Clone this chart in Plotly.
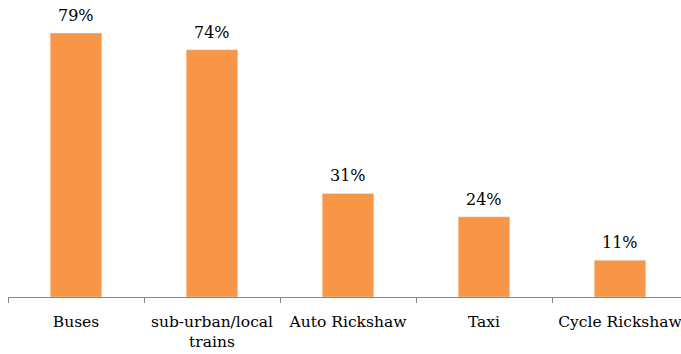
import plotly.graph_objects as go

categories = ["Buses", "sub-urban/local<br>trains", "Auto Rickshaw", "Taxi", "Cycle Rickshaw"]
values = [79, 74, 31, 24, 11]
labels = ["79%", "74%", "31%", "24%", "11%"]

fig = go.Figure()
fig.add_trace(go.Bar(x=categories, y=values, marker_color="#F79646", width=0.38))

for c, v, t in zip(categories, values, labels):
    fig.add_annotation(x=c, y=v, text=t, showarrow=False, yanchor="bottom", yshift=6,
                       font=dict(family="DejaVu Serif", size=16, color="#000000"))

fig.update_layout(
    width=681, height=354,
    margin=dict(l=8, r=0, t=13, b=57),
    plot_bgcolor="white", paper_bgcolor="white",
    showlegend=False,
    bargap=0.62,
)
fig.update_xaxes(
    range=[-0.5, 4.5 - 7/136],
    showline=True, linecolor="#868686", linewidth=1,
    ticks="outside", tickson="boundaries", ticklen=5, tickcolor="#868686",
    tickfont=dict(family="DejaVu Serif", size=15.5, color="#000000"),
    ticklabelstandoff=10, tickangle=0, automargin=False,
    showgrid=False,
)
fig.update_yaxes(range=[0, 85], visible=False, showgrid=False)

fig.write_html("out.html")
